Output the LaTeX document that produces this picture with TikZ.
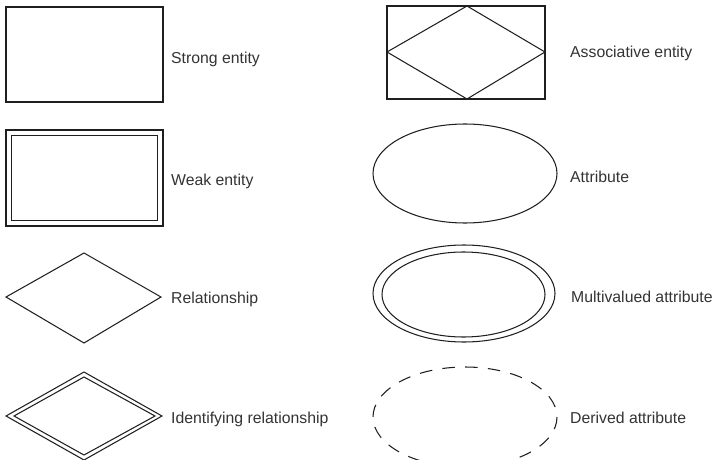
\documentclass[tikz,border=0pt]{standalone}
\usepackage{fontspec}
\setmainfont{Liberation Sans}
\begin{document}
\begin{tikzpicture}[x=1pt,y=-1pt,
  outline/.style={draw=black!88,line width=1.05pt,line join=miter},
  caption/.style={anchor=west,inner sep=0pt,text=black!80,font=\fontsize{15.8}{19}\selectfont},
  dashedoutline/.style={outline,dash pattern=on 12.5pt off 10.3pt}]
\useasboundingbox (0,0) rectangle (715,460);
\clip (0,0) rectangle (715,460);

% Strong entity
\draw[outline] (6,7) rectangle (163,102);
\node[caption] (strong) at (171,59) {Strong entity};

% Weak entity
\draw[outline] (6,130) rectangle (163,226);
\draw[outline] (11.5,135.5) rectangle (157.5,220.5);
\node[caption] (weak) at (171,181) {Weak entity};

% Relationship
\draw[outline] (6,297) -- (84,253) -- (161,297) -- (84,343) -- cycle;
\node[caption] (rel) at (171,299) {Relationship};

% Identifying relationship
\draw[outline] (6,416) -- (84,372) -- (162,416) -- (84,460) -- cycle;
\draw[outline] (14,416) -- (84,377) -- (155,416) -- (84,455) -- cycle;
\node[caption] (idrel) at (171,419) {Identifying relationship};

% Associative entity
\draw[outline] (387,6) rectangle (545,99);
\draw[outline] (387,52) -- (467,6) -- (545,52) -- (467,99) -- cycle;
\node[caption] (assoc) at (570,53) {Associative entity};

% Attribute
\draw[outline] (465,173.5) ellipse [x radius=92, y radius=49.5];
\node[caption] (attr) at (570,177) {Attribute};

% Multivalued attribute
\draw[outline] (464,293.5) ellipse [x radius=91, y radius=48.5];
\draw[outline] (463.5,294.5) ellipse [x radius=81.5, y radius=42.5];
\node[caption] (multi) at (571,297) {Multivalued attribute};

% Derived attribute
\draw[dashedoutline] (465,417) ellipse [x radius=92, y radius=50];
\node[caption] (derived) at (570,418) {Derived attribute};
\end{tikzpicture}
\end{document}
